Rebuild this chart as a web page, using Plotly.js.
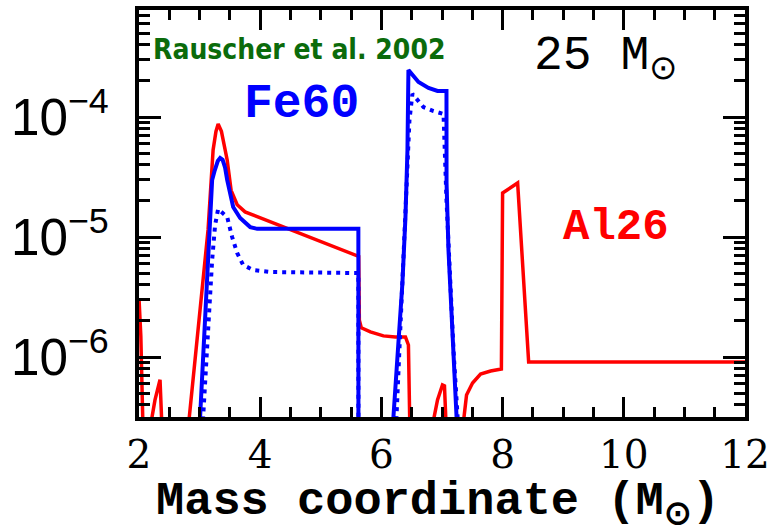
<!DOCTYPE html>
<html>
<head>
<meta charset="utf-8">
<script src="https://cdn.plot.ly/plotly-3.0.1.min.js"></script>
<style>html,body{margin:0;padding:0;background:#fff;}#chart{width:776px;height:530px;}</style>
</head>
<body>
<div id="chart"></div>
<script>
// Al26 (red solid)
const al26Mass = [2.0, 2.03, 2.066, 2.18, 2.264, 2.347, 2.38, 2.81, 3.14, 3.223, 3.27, 3.306, 3.36, 3.455, 3.52, 3.62, 3.75, 3.95, 5.6, 5.625, 5.636, 5.669, 5.818, 6.033, 6.231, 6.397, 6.446, 6.47, 6.83, 6.926, 7.008, 7.041, 7.07, 7.34, 7.405, 7.504, 7.636, 7.802, 7.98, 8.0, 8.248, 8.43, 12.0];
const al26Abund = [3.09e-6, 1.5e-6, 2.5e-7, 2.5e-7, 4.39e-7, 6.46e-7, 2.5e-7, 2.5e-7, 1.15e-5, 5.31e-5, 7.59e-5, 8.75e-5, 7.59e-5, 4.39e-5, 2.45e-5, 1.86e-5, 1.62e-5, 1.48e-5, 7.08e-6, 6.9e-6, 2.03e-6, 1.75e-6, 1.62e-6, 1.50e-6, 1.47e-6, 1.47e-6, 1.26e-6, 2.5e-7, 2.5e-7, 4.39e-7, 5.85e-7, 5.75e-7, 2.5e-7, 2.5e-7, 4.82e-7, 6.07e-7, 7.21e-7, 7.64e-7, 7.94e-7, 2.33e-5, 2.82e-5, 9.08e-7, 9.08e-7];

// Fe60 (blue solid)
const fe60Mass = [2.998, 3.207, 3.25, 3.3, 3.339, 3.38, 3.42, 3.455, 3.554, 3.669, 3.835, 3.95, 5.62, 5.621, 6.185, 6.281, 6.347, 6.397, 6.43, 6.446, 6.612, 6.777, 6.926, 7.074, 7.075, 7.107, 7.157, 7.19, 7.25];
const fe60Abund = [2.5e-7, 2.99e-5, 3.6e-5, 4.3e-5, 4.55e-5, 4.4e-5, 3.8e-5, 2.99e-5, 1.78e-5, 1.44e-5, 1.21e-5, 1.17e-5, 1.17e-5, 2.5e-7, 2.5e-7, 1.14e-6, 4.14e-6, 1.47e-5, 5.31e-5, 2.47e-4, 1.96e-4, 1.75e-4, 1.65e-4, 1.65e-4, 2.82e-5, 7.8e-6, 2.15e-6, 8.26e-7, 2.5e-7];

// Fe60 (blue dotted)
const fe60bMass = [3.047, 3.14, 3.207, 3.256, 3.306, 3.455, 3.537, 3.62, 3.719, 3.884, 4.165, 5.62, 5.621, 6.24, 6.331, 6.413, 6.463, 6.512, 6.694, 6.86, 7.025, 7.074, 7.14, 7.19, 7.27];
const fe60bAbund = [2.5e-7, 1.68e-6, 6.43e-6, 1.26e-5, 1.71e-5, 1.47e-5, 1.0e-5, 7.36e-6, 5.85e-6, 5.31e-6, 5.11e-6, 5.01e-6, 2.5e-7, 2.5e-7, 2.99e-6, 2.03e-5, 9.44e-5, 1.56e-4, 1.21e-4, 1.12e-4, 1.06e-4, 2.03e-5, 4.14e-6, 1.14e-6, 2.5e-7];

const xTickVals = [2, 4, 6, 8, 10, 12];
const xTickText = ['2', '4', '6', '8', '10', '12'];
const xTitle = 'Mass coordinate (M<sub>⊙</sub>)';

const traces = [
  {x: al26Mass, y: al26Abund, mode: 'lines', line: {color: '#ff0000', width: 3.5}, showlegend: false, hoverinfo: 'skip'},
  {x: fe60bMass, y: fe60bAbund, mode: 'lines', line: {color: '#0000ff', width: 4, dash: '4px,5px'}, showlegend: false, hoverinfo: 'skip'},
  {x: fe60Mass, y: fe60Abund, mode: 'lines', line: {color: '#0000ff', width: 4}, showlegend: false, hoverinfo: 'skip'}
];

const layout = {
  width: 776, height: 530,
  margin: {l: 139, r: 31, t: 10, b: 113},
  paper_bgcolor: '#ffffff', plot_bgcolor: '#ffffff',
  showlegend: false,
  xaxis: {
    range: [2, 12], tickvals: xTickVals, ticktext: xTickText,
    ticks: 'inside', ticklen: 20, tickwidth: 3, tickcolor: '#000',
    minor: {dtick: 0.5, tick0: 2, ticks: 'inside', ticklen: 10, tickwidth: 3, tickcolor: '#000', showgrid: false},
    showline: true, linewidth: 4, linecolor: '#000', mirror: 'allticks',
    showgrid: false, zeroline: false,
    tickfont: {family: 'DejaVu Serif', size: 39, color: '#000'},
    ticklabelstandoff: 0
  },
  yaxis: {
    type: 'log', range: [-6.5, -3.108], dtick: 1, exponentformat: 'power',
    ticks: 'inside', ticklen: 22, tickwidth: 3, tickcolor: '#000',
    minor: {dtick: 'D1', ticks: 'inside', ticklen: 11, tickwidth: 3, tickcolor: '#000', showgrid: false},
    showline: true, linewidth: 4, linecolor: '#000', mirror: 'allticks',
    showgrid: false, zeroline: false,
    tickfont: {family: 'Liberation Sans', size: 41, color: '#000'},
    ticklabelstandoff: 18
  },
  annotations: [
    {text: xTitle, x: 0.493, y: -0.137, xref: 'paper', yref: 'paper', xanchor: 'center', yanchor: 'top', showarrow: false,
     font: {family: 'Liberation Mono', size: 47, weight: 'bold', color: '#000'}},
    {text: 'Rauscher et al. 2002', x: 2.2, y: -3.433, xref: 'x', yref: 'y', xanchor: 'left', yanchor: 'middle', showarrow: false,
     font: {family: 'DejaVu Sans Condensed, DejaVu Sans', size: 28, weight: 'bold', color: '#0b6b0b'}},
    {text: 'Fe60', x: 4.686, y: -3.89, xref: 'x', yref: 'y', xanchor: 'center', yanchor: 'middle', showarrow: false,
     font: {family: 'Liberation Mono', size: 48, weight: 'bold', color: '#0000ff'}},
    {text: 'Al26', x: 9.876, y: -4.92, xref: 'x', yref: 'y', xanchor: 'center', yanchor: 'middle', showarrow: false,
     font: {family: 'Liberation Mono', size: 44, weight: 'bold', color: '#ff0000'}},
    {text: '25 M<sub>⊙</sub>', x: 8.48, y: -3.52, xref: 'x', yref: 'y', xanchor: 'left', yanchor: 'middle', showarrow: false,
     font: {family: 'Liberation Mono', size: 48, color: '#000'}}
  ]
};

Plotly.newPlot('chart', traces, layout, {staticPlot: true, displayModeBar: false});
</script>
</body>
</html>
